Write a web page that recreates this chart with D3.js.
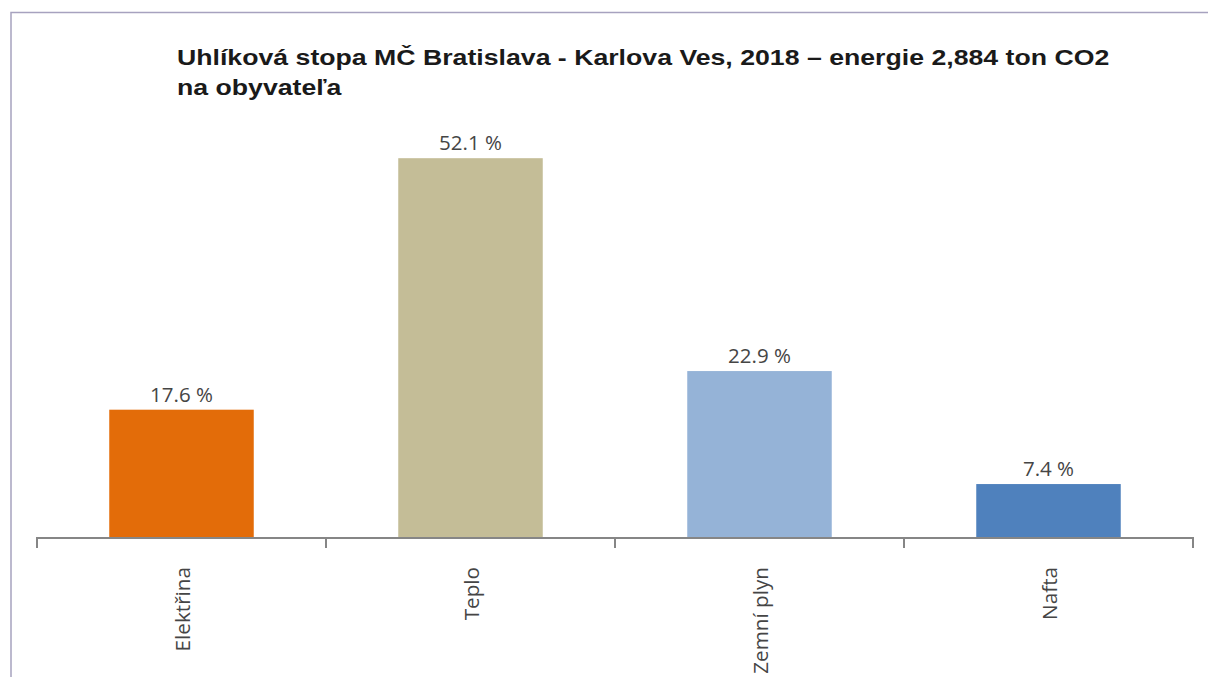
<!DOCTYPE html>
<html>
<head>
<meta charset="utf-8">
<script src="https://cdn.jsdelivr.net/npm/d3@7"></script>
<style>
  html, body { margin: 0; padding: 0; background: #fff; }
  svg { display: block; }
</style>
</head>
<body>
<svg id="chart" width="1208" height="677"></svg>
<script>
// Carbon footprint shares by energy source
const categories = ["Elektřina", "Teplo", "Zemní plyn", "Nafta"];
const shares = [17.6, 52.1, 22.9, 7.4];
const valueLabels = ["17.6 %", "52.1 %", "22.9 %", "7.4 %"];
const barColors = ["#E36C09", "#C4BD97", "#95B3D7", "#4F81BD"];
const titleLines = [
  "Uhlíková stopa MČ Bratislava - Karlova Ves, 2018 – energie 2,884 ton CO2",
  "na obyvateľa"
];

const svg = d3.select("#chart");
const W = 1208, H = 677;

// frame
svg.append("path")
  .attr("d", `M11,${H} L11,12.5 L${W},12.5`)
  .attr("fill", "none")
  .attr("stroke", "#a7a2bf")
  .attr("stroke-width", 1.5);

const plot = { left: 37, right: 1193, base: 538 };

const x = d3.scaleBand()
  .domain(categories)
  .range([plot.left, plot.right])
  .paddingInner(0.5)
  .paddingOuter(0.25);

const y = d3.scaleLinear()
  .domain([0, 55])
  .range([plot.base, plot.base - 55 * 7.29]);

// bars
svg.append("g").selectAll("rect")
  .data(categories)
  .join("rect")
  .attr("x", d => x(d))
  .attr("width", x.bandwidth())
  .attr("y", (d, i) => y(shares[i]))
  .attr("height", (d, i) => y(0) - y(shares[i]))
  .attr("fill", (d, i) => barColors[i]);

// value labels
svg.append("g").selectAll("text")
  .data(categories)
  .join("text")
  .attr("x", d => x(d) + x.bandwidth() / 2)
  .attr("y", (d, i) => y(shares[i]) - 8)
  .attr("text-anchor", "middle")
  .attr("font-family", "'Open Sans', 'Noto Sans', sans-serif")
  .attr("font-size", 20.5)
  .attr("fill", "#454545")
  .text((d, i) => valueLabels[i]);

// category axis with ticks on category boundaries
const boundaries = d3.range(categories.length + 1)
  .map(i => plot.left + i * (plot.right - plot.left) / categories.length);
const axisG = svg.append("g");
axisG.append("line")
  .attr("x1", plot.left).attr("x2", plot.right)
  .attr("y1", plot.base).attr("y2", plot.base)
  .attr("stroke", "#868686").attr("stroke-width", 2);
axisG.selectAll("line.tick")
  .data(boundaries)
  .join("line")
  .attr("class", "tick")
  .attr("x1", d => d).attr("x2", d => d)
  .attr("y1", plot.base - 1).attr("y2", plot.base + 10)
  .attr("stroke", "#868686").attr("stroke-width", 2);

axisG.selectAll("text")
  .data(categories)
  .join("text")
  .attr("transform", d => `translate(${x(d) + x.bandwidth() / 2 + 8},${plot.base + 29}) rotate(-90)`)
  .attr("text-anchor", "end")
  .attr("font-family", "'Open Sans', 'Noto Sans', sans-serif")
  .attr("font-size", 20.7)
  .attr("fill", "#454545")
  .text(d => d);

// title, widened horizontally so the first line spans the header area
const titleWidth = 933;
const title = svg.append("g");
const t1 = title.append("text")
  .attr("y", 65)
  .attr("font-family", "'Liberation Sans', Arial, sans-serif")
  .attr("font-weight", "bold")
  .attr("font-size", 22)
  .attr("fill", "#1a1a1a")
  .text(titleLines[0]);
title.append("text")
  .attr("y", 95)
  .attr("font-family", "'Liberation Sans', Arial, sans-serif")
  .attr("font-weight", "bold")
  .attr("font-size", 22)
  .attr("fill", "#1a1a1a")
  .text(titleLines[1]);
const k = titleWidth / t1.node().getComputedTextLength();
title.attr("transform", `translate(177,0) scale(${k},1)`);
</script>
</body>
</html>
